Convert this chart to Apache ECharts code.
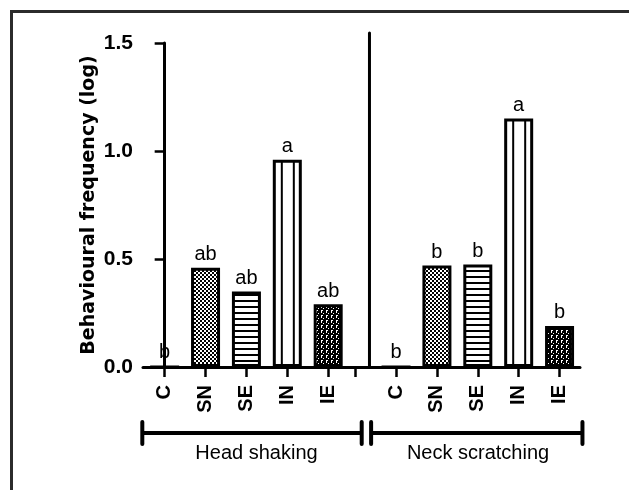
<!DOCTYPE html>
<html><head><meta charset="utf-8">
<script src="https://cdn.jsdelivr.net/npm/echarts@6/dist/echarts.min.js"></script>
<style>html,body{margin:0;padding:0;background:#fff}#c{width:629px;height:490px}</style>
</head><body><div id="c"></div>
<script>
// ---- data ----
const categories = ['C', 'SN', 'SE', 'IN', 'IE'];
const groups = ['Head shaking', 'Neck scratching'];
const headShaking = [0, 0.46, 0.35, 0.96, 0.29];
const neckScratching = [0, 0.47, 0.475, 1.15, 0.19];
const headLetters = ['b', 'ab', 'ab', 'a', 'ab'];
const neckLetters = ['b', 'b', 'b', 'a', 'b'];
const yTicks = [0, 0.5, 1.0, 1.5];
const yAxisTitle = 'Behavioural frequency (log)';

// ---- layout (axis units) ----
const GROUP_OFFSET = [0, 5.66];
const EXTRA_TICK = 4.67;
const X_MIN = -0.53, X_MAX = 10.16;
const BAR_W = 29;

// ---- patterns ----
function tile(w, h, draw) {
  const c = document.createElement('canvas');
  c.width = w; c.height = h;
  const ctx = c.getContext('2d');
  draw(ctx);
  return c;
}
const checker = tile(4, 4, ctx => {
  ctx.fillStyle = '#fff'; ctx.fillRect(0, 0, 4, 4);
  ctx.fillStyle = '#000'; ctx.fillRect(0, 0, 2, 2); ctx.fillRect(2, 2, 2, 2);
});
const hstripe = tile(6, 6, ctx => {
  ctx.fillStyle = '#fff'; ctx.fillRect(0, 0, 6, 6);
  ctx.fillStyle = '#000'; ctx.fillRect(0, 0, 6, 2);
});
const vstripe = tile(12, 4, ctx => {
  ctx.fillStyle = '#fff'; ctx.fillRect(0, 0, 12, 4);
  ctx.fillStyle = '#000'; ctx.fillRect(8, 0, 2, 4);
});
const dots = tile(5, 5, ctx => {
  ctx.fillStyle = '#000'; ctx.fillRect(0, 0, 5, 5);
  ctx.fillStyle = '#fff';
  ctx.fillRect(1, 0, 2, 1); ctx.fillRect(1, 1, 1, 2); ctx.fillRect(3, 3, 1, 1);
});
function fillFor(i, barLeft) {
  switch (categories[i]) {
    case 'SN': return { image: checker, repeat: 'repeat' };
    case 'SE': return { image: hstripe, repeat: 'repeat' };
    case 'IN': return { image: vstripe, repeat: 'repeat', x: barLeft || 0 };
    case 'IE': return { image: dots, repeat: 'repeat' };
    default: return '#fff';
  }
}

const values = [headShaking, neckScratching];
const letters = [headLetters, neckLetters];
function buildData(lefts) {
  const data = [];
  values.forEach((vals, g) => {
    vals.forEach((v, i) => {
      const k = g * categories.length + i;
      data.push({
        value: [GROUP_OFFSET[g] + i, v],
        itemStyle: { color: fillFor(i, lefts ? lefts[k] : 0) },
        label: { formatter: letters[g][i] }
      });
    });
  });
  return data;
}

const labelPos = [], labelName = [];
GROUP_OFFSET.forEach(off => categories.forEach((c, i) => { labelPos.push(off + i); labelName.push(c); }));
const tickPos = labelPos.slice(0, 5).concat([EXTRA_TICK]).concat(labelPos.slice(5));

const FONT = 'Liberation Sans, Arial, sans-serif';
const chart = echarts.init(document.getElementById('c'), null, { renderer: 'canvas' });

const option = {
  animation: false,
  backgroundColor: '#fff',
  grid: { left: 143, right: 49, top: 43, bottom: 123, containLabel: false },
  xAxis: {
    type: 'value', min: X_MIN, max: X_MAX,
    splitLine: { show: false },
    axisLine: { show: true, onZero: false, lineStyle: { color: '#000', width: 3 } },
    axisTick: { show: true, length: 10, customValues: tickPos, lineStyle: { color: '#000', width: 2.5 } },
    axisLabel: {
      customValues: labelPos, rotate: 90, margin: 18,
      color: '#000', fontFamily: FONT, fontWeight: 'bold', fontSize: 20,
      formatter: v => {
        let best = 0;
        labelPos.forEach((p, i) => { if (Math.abs(p - v) < Math.abs(labelPos[best] - v)) best = i; });
        return labelName[best];
      }
    }
  },
  yAxis: {
    type: 'value', min: 0, max: 1.5, interval: 0.5,
    name: yAxisTitle, nameLocation: 'middle', nameGap: 44, nameMoveOverlap: false,
    nameTextStyle: { color: '#000', fontFamily: 'DejaVu Sans', fontWeight: 'bold', fontSize: 19 },
    splitLine: { show: false },
    axisLine: { show: true, lineStyle: { color: '#000', width: 3 } },
    axisTick: { show: true, length: 10, lineStyle: { color: '#000', width: 2.5 } },
    axisLabel: {
      margin: 10, color: '#000', fontFamily: FONT, fontWeight: 'bold', fontSize: 21,
      formatter: v => v.toFixed(1)
    }
  },
  series: [{
    type: 'bar',
    barWidth: BAR_W,
    data: buildData(null),
    itemStyle: { borderColor: '#000', borderWidth: 3 },
    label: { show: true, position: 'top', distance: 3, color: '#000', fontFamily: FONT, fontSize: 20 },
    z: 3
  }]
};
chart.setOption(option);

// second pass: align patterns and annotations with the scales
const px = (x, y) => chart.convertToPixel({ gridIndex: 0 }, [x, y]);
const lefts = [];
values.forEach((vals, g) => vals.forEach((v, i) => lefts.push(px(GROUP_OFFSET[g] + i, 0)[0] - BAR_W / 2)));

const y0 = px(0, 0)[1];
const yTop = px(0, 1.5)[1];
const bracketY = y0 + 66;
const brackets = [[-0.547, 4.82], [5.05, 10.22]];
const textX = [2.246, 7.666];
const graphics = [];
graphics.push({ type: 'rect', shape: { x: 11.5, y: 11.5, width: 800, height: 800 },
  style: { fill: 'none', stroke: '#2b2b2b', lineWidth: 3 }, silent: true });
const divX = px(5.01, 0)[0];
graphics.push({ type: 'line', shape: { x1: divX, y1: yTop - 10, x2: divX, y2: y0 },
  style: { stroke: '#000', lineWidth: 3, lineCap: 'round' }, z: 10 });
brackets.forEach((b, g) => {
  const xa = px(b[0], 0)[0], xb = px(b[1], 0)[0];
  graphics.push({ type: 'line', shape: { x1: xa, y1: bracketY, x2: xb, y2: bracketY }, style: { stroke: '#000', lineWidth: 4 } });
  [xa, xb].forEach(xx => graphics.push({ type: 'line', shape: { x1: xx, y1: bracketY - 11, x2: xx, y2: bracketY + 11 },
    style: { stroke: '#000', lineWidth: 4, lineCap: 'round' } }));
  graphics.push({ type: 'text', x: px(textX[g], 0)[0], y: y0 + 86,
    style: { text: groups[g], fill: '#000', font: '20px ' + FONT, textAlign: 'center', textVerticalAlign: 'middle' } });
});

chart.setOption({ series: [{ data: buildData(lefts) }], graphic: graphics });
</script>
</body></html>
